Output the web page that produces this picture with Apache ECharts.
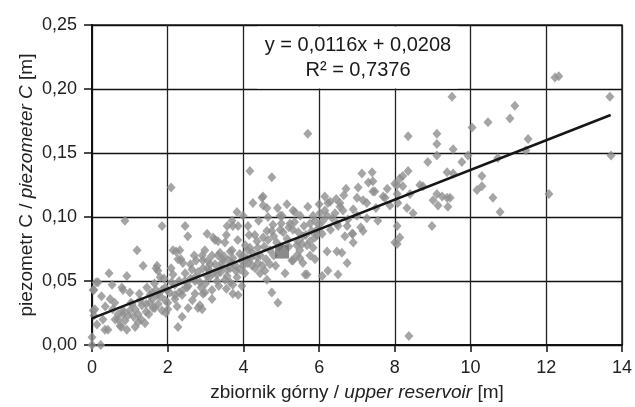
<!DOCTYPE html>
<html>
<head>
<meta charset="utf-8">
<script src="https://cdn.jsdelivr.net/npm/echarts@6/dist/echarts.min.js"></script>
<style>
  html, body { margin: 0; padding: 0; background: #fff; }
  #chart { width: 635px; height: 407px; }
</style>
</head>
<body>
<div id="chart"></div>
<script>
// osie
var xMin = 0, xMax = 14, xStep = 2;
var yMin = 0, yMax = 0.25, yStep = 0.05;

// pomiary: [zbiornik górny, piezometr C]
var points = [
  [0.87,0.097],[2.09,0.123],[1.85,0.093],[2.46,0.093],[2.53,0.085],[3.04,0.087],[3.2,0.084],[3.33,0.081],[3.51,0.080],
  [3.83,0.104],[3.70,0.097],[3.86,0.093],[4.12,0.093],[4.25,0.111],[4.49,0.115],[4.3,0.086],[1.19,0.074],[1.35,0.062],
  [0.45,0.056],[0.92,0.054],[0.16,0.049],[0.53,0.047],[0.05,0.043],[0.79,0.045],[0.82,0.043],[0.48,0.036],[0.03,0.027],
  [0.05,0.023],[0.13,0.016],[0.0,0.006],[0.0,0.0],[0.23,0.0],[0.34,0.012],[0.42,0.012],[0.69,0.020],[0.74,0.015],
  [0.82,0.024],[0.95,0.023],[0.92,0.012],[1.14,0.014],[1.22,0.018],[1.14,0.028],[1.06,0.032],[1.32,0.031],[1.53,0.033],
  [1.66,0.029],[1.85,0.027],[1.72,0.039],[1.58,0.041],[1.85,0.043],[1.98,0.043],[1.72,0.062],[1.74,0.058],[2.27,0.014],
  [2.38,0.022],[2.14,0.074],[2.32,0.074],[2.27,0.067],[2.40,0.064],[2.46,0.056],[2.64,0.059],[2.72,0.053],[2.85,0.031],
  [2.80,0.029],[2.51,0.045],[2.38,0.039],[2.19,0.036],[2.0,0.033],[2.91,0.070],[2.98,0.074],[3.06,0.066],[3.2,0.056],
  [2.98,0.041],[3.17,0.036],[3.43,0.064],[3.57,0.059],[3.70,0.064],[3.51,0.051],[3.72,0.047],[3.86,0.039],[3.96,0.046],
  [4.04,0.056],[4.23,0.062],[4.44,0.056],[4.38,0.064],[4.12,0.074],[4.38,0.076],[3.70,0.074],[3.33,0.070],
  [6.71,0.122],[7.03,0.123],[7.47,0.120],[8.06,0.125],[8.21,0.124],[8.74,0.124],[9.11,0.118],[6.15,0.116],[6.29,0.112],
  [6.55,0.108],[7.0,0.115],[7.26,0.111],[7.69,0.116],[8.32,0.107],[8.48,0.103],[9.01,0.113],[5.31,0.105],[5.02,0.101],
  [4.62,0.107],[4.52,0.116],[4.78,0.094],[5.23,0.095],[5.31,0.090],[5.76,0.095],[5.84,0.101],[6.21,0.101],[6.47,0.095],
  [6.74,0.093],[6.89,0.087],[7.16,0.089],[7.55,0.097],[8.06,0.093],[8.13,0.084],[8.0,0.080],[8.98,0.093],[5.94,0.090],
  [5.76,0.081],[5.57,0.085],[5.49,0.074],[5.41,0.070],[6.21,0.073],[6.47,0.073],[6.6,0.072],[6.74,0.064],[6.23,0.058],
  [6.5,0.055],[6.08,0.054],[5.89,0.067],[5.63,0.055],[5.10,0.056],[4.62,0.051],[4.57,0.058],[4.75,0.041],[4.91,0.033],
  [8.37,0.007],[4.52,0.084],[4.70,0.074],[4.88,0.080],[5.41,0.078],[5.31,0.066],[5.57,0.064],[5.84,0.076],[5.89,0.084],
  [4.97,0.090],[4.75,0.089],
  [5.70,0.165],[8.35,0.163],[9.11,0.165],[9.11,0.157],[9.11,0.148],[8.87,0.143],[8.35,0.136],[8.21,0.132],[8.13,0.130],
  [8.0,0.126],[7.40,0.135],[7.13,0.134],[7.42,0.128],[4.75,0.131],[4.17,0.136],
  [9.38,0.135],[7.42,0.120],[7.16,0.113],[7.74,0.115],[7.87,0.109],[8.06,0.118],[8.08,0.111],[8.66,0.125],[9.14,0.109],
  [9.38,0.115],[9.40,0.108],[8.06,0.079],[6.23,0.111],[6.55,0.111],[6.63,0.105],[6.42,0.103],[6.76,0.098],[7.0,0.101],
  [7.26,0.099],[6.10,0.097],[6.08,0.087],[6.5,0.093],[6.68,0.085],[6.87,0.087],
  [9.51,0.194],[11.17,0.187],[11.04,0.177],[10.46,0.174],[10.04,0.170],[13.68,0.194],[13.71,0.148],[11.52,0.161],
  [11.46,0.152],[10.72,0.146],[9.93,0.148],[9.77,0.143],[9.54,0.153],[9.54,0.134],[10.30,0.132],[10.17,0.121],
  [10.30,0.124],[10.59,0.115],[10.78,0.104],[12.07,0.118],[9.46,0.115],[9.25,0.116],[12.23,0.209],[12.33,0.210],
  [4.52,0.109],[3.99,0.101],[3.72,0.093],[3.57,0.093],[4.97,0.101],[5.36,0.104],[4.62,0.089],[3.25,0.082],[3.17,0.070],
  [3.38,0.072],[3.65,0.073],[3.72,0.068],[3.99,0.070],[4.17,0.076],[4.36,0.081],[4.12,0.064],[4.31,0.060],[4.70,0.063],
  [3.91,0.059],[3.65,0.060],[3.38,0.060],[3.12,0.063],[2.93,0.066],[3.04,0.054],[3.30,0.055],[3.57,0.054],[3.83,0.053],
  [3.72,0.040],[3.17,0.043],[2.93,0.040],[2.91,0.028],[5.68,0.078],[5.44,0.081],[5.76,0.070],[5.68,0.055],[5.28,0.066],
  [5.49,0.068],[5.89,0.097],[6.02,0.103],[5.94,0.086],
  [0.11,0.049],[0.03,0.043],[1.69,0.060],[1.80,0.053],[2.09,0.060],[2.22,0.073],[2.35,0.067],[2.72,0.050],[2.93,0.060],
  [1.93,0.045],[1.69,0.043],[1.53,0.039],[1.27,0.035],[1.03,0.033],[0.82,0.027],[0.69,0.024],[0.61,0.020],[0.29,0.020],
  [0.08,0.028],[0.87,0.019],[1.22,0.024],[1.43,0.026],[1.61,0.029],[0.77,0.014],[1.93,0.035],[2.19,0.039],[2.40,0.043],
  [2.54,0.029],[2.72,0.040],[2.88,0.045],[2.54,0.046],[2.19,0.047],[2.14,0.055],[1.43,0.032],
  [1.0,0.027],[1.1,0.022],[1.3,0.020],[1.5,0.024],[1.6,0.036],[1.8,0.038],[2.05,0.041],[2.3,0.050],[2.6,0.052],
  [2.8,0.057],[3.0,0.048],[3.1,0.058],[3.3,0.050],[3.45,0.067],[3.6,0.066],[3.8,0.062],[3.95,0.066],[4.05,0.078],
  [4.2,0.068],[4.45,0.070],[4.6,0.067],[4.8,0.070],[4.85,0.062],[5.15,0.083],[5.2,0.077],[5.45,0.088],[5.6,0.093],
  [5.0,0.095],[4.4,0.097],[4.65,0.100],[4.9,0.107],[5.15,0.110],[5.5,0.101],[5.7,0.108],[6.0,0.110],[6.35,0.099],
  [6.9,0.106],[7.5,0.107],[7.8,0.122],[8.4,0.118],[7.3,0.127],[6.9,0.080],[7.1,0.092],[3.35,0.046],[3.55,0.044],
  [2.65,0.035],[2.25,0.030],[1.95,0.025],[0.35,0.030],[0.6,0.033],[0.25,0.038],
  [1.25,0.040],[1.45,0.045],[1.65,0.048],[1.9,0.052],[2.1,0.049],[2.45,0.050],[2.6,0.063],[2.75,0.066],[2.85,0.049],
  [3.05,0.060],[3.25,0.063],[3.4,0.057],[3.5,0.069],[3.65,0.049],[3.8,0.058],[3.9,0.071],[4.0,0.062],[4.1,0.067],
  [4.25,0.072],[4.35,0.069],[4.5,0.062],[4.55,0.077],[4.65,0.082],[4.8,0.085],[4.95,0.077],[5.05,0.088],[5.2,0.092],
  [5.35,0.096],[5.55,0.079],[5.65,0.086],[5.8,0.089],[6.0,0.094],[6.15,0.105],[6.3,0.090],[6.45,0.114],[6.65,0.117],
  [2.0,0.028],[2.3,0.041],[1.75,0.032],[1.4,0.017],[0.55,0.028],[1.0,0.041],[3.1,0.053],[3.85,0.082],[4.15,0.086],
  [3.55,0.086],[2.7,0.070]
];

// punkt średni (kwadrat)
var meanPoint = [[5.02, 0.073]];

// linia trendu: końce
var trendLine = [[0, 0.0208], [13.7, 0.1797]];

var eqText = 'y = 0,0116x + 0,0208';
var r2Text = 'R² = 0,7376';

var fontFam = 'Liberation Sans, Arial, sans-serif';

function comma(v, d) {
  return v.toFixed(d).replace('.', ',');
}

var chart = echarts.init(document.getElementById('chart'));

var option = {
  animation: false,
  backgroundColor: '#fff',
  grid: {
    left: 92, right: 13, top: 25, bottom: 59,
    show: true,
    borderColor: '#222',
    borderWidth: 1.5,
    backgroundColor: 'transparent'
  },
  xAxis: {
    type: 'value',
    min: xMin, max: xMax, interval: xStep,
    name: 'zbiornik górny / {it|upper reservoir} [m]',
    nameLocation: 'middle',
    nameGap: 38,
    nameMoveOverlap: false,
    nameTextStyle: {
      fontFamily: fontFam, fontSize: 19, color: '#222',
      rich: { it: { fontStyle: 'italic', fontFamily: fontFam, fontSize: 19, color: '#222' } }
    },
    axisLine: { show: true, onZero: false, lineStyle: { color: '#111', width: 2 } },
    axisTick: { show: true, length: 7, lineStyle: { color: '#111', width: 1.5 } },
    axisLabel: { fontFamily: fontFam, fontSize: 18, color: '#222', margin: 14 },
    splitLine: { show: true, lineStyle: { color: '#222', width: 1.3 } }
  },
  yAxis: {
    type: 'value',
    min: yMin, max: yMax, interval: yStep,
    name: 'piezometr C / {it|piezometer C} [m]',
    nameLocation: 'middle',
    nameGap: 56,
    nameMoveOverlap: false,
    nameTextStyle: {
      fontFamily: fontFam, fontSize: 19, color: '#222',
      rich: { it: { fontStyle: 'italic', fontFamily: fontFam, fontSize: 19, color: '#222' } }
    },
    axisLine: { show: true, onZero: false, lineStyle: { color: '#111', width: 2 } },
    axisTick: { show: true, length: 8, lineStyle: { color: '#111', width: 1.5 } },
    axisLabel: {
      fontFamily: fontFam, fontSize: 18, color: '#222', margin: 15,
      formatter: function (v) { return comma(v, 2); }
    },
    splitLine: { show: true, lineStyle: { color: '#111', width: 1.3 } }
  },
  graphic: [
    {
      type: 'rect', z: 1,
      shape: { x: 257, y: 26.5, width: 201, height: 62 },
      style: { fill: '#fff' }
    },
    {
      type: 'text', z: 3,
      x: 358, y: 45,
      style: { text: eqText, font: '20px ' + fontFam, fill: '#1a1a1a', textAlign: 'center', textVerticalAlign: 'middle' }
    },
    {
      type: 'text', z: 3,
      x: 358, y: 70,
      style: { text: r2Text, font: '20px ' + fontFam, fill: '#1a1a1a', textAlign: 'center', textVerticalAlign: 'middle' }
    }
  ],
  series: [
    {
      type: 'scatter',
      data: points,
      symbol: 'diamond',
      symbolSize: [9, 10],
      itemStyle: { color: '#8f8f8f' },
      z: 2
    },
    {
      type: 'scatter',
      data: meanPoint,
      symbol: 'rect',
      symbolSize: 14,
      itemStyle: { color: '#6e6e6e' },
      z: 3
    },
    {
      type: 'line',
      data: trendLine,
      symbol: 'none',
      lineStyle: { color: '#161616', width: 2.5 },
      z: 4
    }
  ]
};

chart.setOption(option);
</script>
</body>
</html>
